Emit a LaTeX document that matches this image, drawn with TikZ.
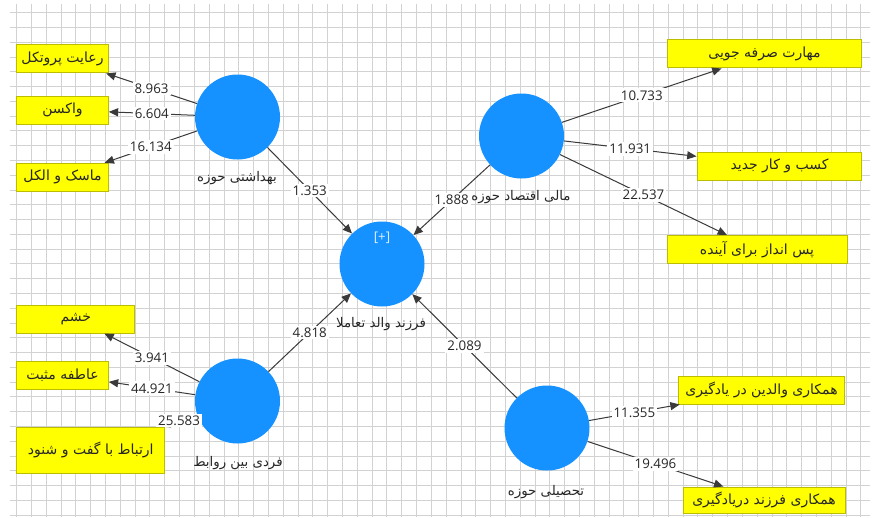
\documentclass[tikz,border=0pt]{standalone}
\usepackage{fontspec}
\setmainfont{Open Sans}
\newfontfamily\fafont[Script=Arabic]{DejaVu Sans}
\TeXXeTstate=1
\newcommand{\fatext}[1]{{\fafont\beginR #1\endR}}
\usetikzlibrary{arrows.meta}
\definecolor{gridc}{HTML}{D2D2D2}
\definecolor{lvblue}{HTML}{1592FF}
\definecolor{itemfill}{HTML}{FFFF00}
\definecolor{itemline}{HTML}{BDBD00}
\definecolor{edge}{HTML}{3A3A3A}
\definecolor{txt}{HTML}{262626}
\tikzset{
  latent/.style={circle, fill=lvblue, minimum size=63.75pt, inner sep=0pt},
  item/.style={draw=itemline, fill=itemfill, line width=0.75pt, minimum height=21pt, inner sep=0pt, text=txt, font=\fafont\fontsize{10.5}{12}\selectfont},
  lvname/.style={text=txt, font=\fafont\fontsize{10}{12}\selectfont},
  coef/.style={fill=white, inner sep=1.5pt, text=txt, font=\fontsize{10}{12}\selectfont},
  arr/.style={draw=edge, line width=0.75pt, -{Triangle[length=7pt,width=6pt]}},
  gridline/.style={draw=gridc, line width=0.75pt},
}

\begin{document}
\begin{tikzpicture}[x=0.75pt,y=-0.75pt]
  \useasboundingbox[fill=white] (0,0) rectangle (873,517);

  % background grid
  \begin{scope}
    \clip (10,4) rectangle (870,517);
    \foreach \i in {0,...,57}{\draw[gridline] ({16.7+14.81*\i},4) -- ({16.7+14.81*\i},517);}
    \foreach \j in {0,...,34}{\draw[gridline] (10,{12.7+14.78*\j}) -- (870,{12.7+14.78*\j});}
  \end{scope}

  % latent variables
  \node[latent] (hb) at (237.5,117) {};
  \node[latent] (me) at (521.5,136) {};
  \node[latent] (ce) at (382,264) {};
  \node[latent] (fr) at (237.5,401) {};
  \node[latent] (ta) at (547,428) {};
  \node[text=white!85!lvblue, font=\fontsize{10}{11}\selectfont] (plus) at (382,238) {[+]};

  \node[lvname] (hbn) at (237,178) {\fatext{بهداشتی حوزه}};
  \node[lvname] (men) at (521,197) {\fatext{مالی اقتصاد حوزه}};
  \node[lvname] (cen) at (381,324) {\fatext{فرزند والد تعاملا}};
  \node[lvname] (frn) at (238,463) {\fatext{فردی بین روابط}};
  \node[lvname] (tan) at (546,492) {\fatext{تحصیلی حوزه}};

  % indicators
  \node[item, minimum width=68.7pt] (rp) at (62.5,58.9) {\fatext{رعایت پروتکل}};
  \node[item, minimum width=68.7pt] (vk) at (62.5,110) {\fatext{واکسن}};
  \node[item, minimum width=68.7pt] (mk) at (62.5,177.3) {\fatext{ماسک و الکل}};
  \node[item, minimum width=146.2pt] (ms) at (764.5,54) {\fatext{مهارت صرفه جویی}};
  \node[item, minimum width=123.7pt] (kk) at (779.5,166) {\fatext{کسب و کار جدید}};
  \node[item, minimum width=135pt] (pa) at (757,249.5) {\fatext{پس انداز برای آینده}};
  \node[item, minimum width=88.7pt] (kh) at (75.8,319) {\fatext{خشم}};
  \node[item, minimum width=68.7pt] (am) at (62.5,375) {\fatext{عاطفه مثبت}};
  \node[item, minimum width=111.2pt, minimum height=34.5pt] (eg) at (90.8,450) {\fatext{ارتباط با گفت و شنود}};
  \node[item, minimum width=125.2pt] (hv) at (761.5,390) {\fatext{همکاری والدین در یادگیری}};
  \node[item, minimum width=121.5pt, minimum height=19.5pt] (hf) at (764,500) {\fatext{همکاری فرزند دریادگیری}};

  % outer model
  \draw[arr] (hb) -- node[coef] (c1) {8.963} (rp);
  \draw[arr] (hb) -- node[coef] (c2) {6.604} (vk);
  \draw[arr] (hb) -- node[coef] (c3) {16.134} (mk);
  \draw[arr] (me) -- node[coef] (c4) {10.733} (ms);
  \draw[arr] (me) -- node[coef] (c5) {11.931} (kk);
  \draw[arr] (me) -- node[coef] (c6) {22.537} (pa);
  \draw[arr] (fr) -- node[coef] (c7) {3.941} (kh);
  \draw[arr] (fr) -- node[coef] (c8) {44.921} (am);
  \draw[arr] (fr) -- node[coef] (c9) {25.583} (eg);
  \draw[arr] (ta) -- node[coef] (c10) {11.355} (hv);
  \draw[arr] (ta) -- node[coef] (c11) {19.496} (hf);

  % inner model
  \draw[arr] (hb) -- node[coef] (c12) {1.353} (ce);
  \draw[arr] (me) -- node[coef] (c13) {1.888} (ce);
  \draw[arr] (fr) -- node[coef] (c14) {4.818} (ce);
  \draw[arr] (ta) -- node[coef] (c15) {2.089} (ce);
\end{tikzpicture}
\end{document}
